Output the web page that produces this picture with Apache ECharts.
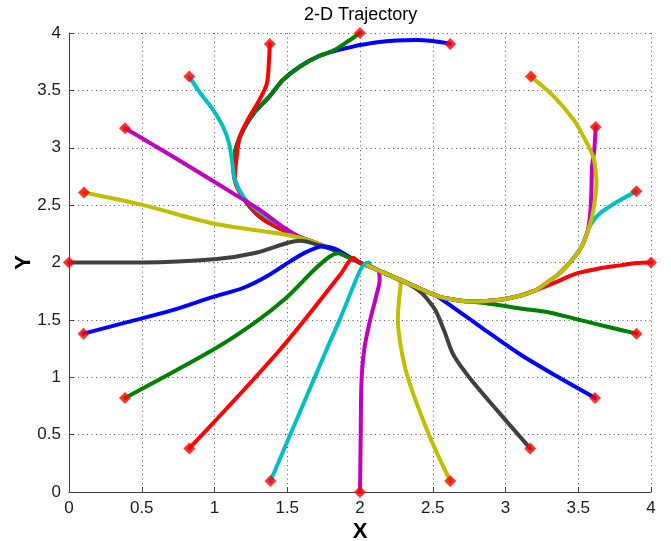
<!DOCTYPE html>
<html lang="en">
<head>
<meta charset="UTF-8">
<title>2-D Trajectory</title>
<script src="https://cdn.jsdelivr.net/npm/echarts@6.0.0/dist/echarts.min.js"></script>
<style>
    html, body { margin: 0; padding: 0; background: #fff; }
    #chart { width: 671px; height: 541px; }
</style>
</head>
<body>
<div id="chart"></div>
<script>
// shared path from the upper-left loop into the centre
const leftBranch = [[1.86,3.855],[1.72,3.80],[1.59,3.71],[1.47,3.59],[1.38,3.45],[1.27,3.30],[1.20,3.16],
    [1.15,3.01],[1.13,2.86],[1.14,2.72],[1.18,2.60],[1.24,2.49],[1.33,2.38],[1.46,2.29],[1.59,2.22],
    [1.72,2.16],[1.86,2.09],[1.95,2.03],[2.03,1.98]];
// shared path from the right loop into the centre
const rightBranch = [[3.615,2.85],[3.625,2.70],[3.615,2.55],[3.595,2.40],[3.56,2.25],[3.52,2.13],[3.45,2.01],
    [3.37,1.905],[3.29,1.83],[3.21,1.76],[3.10,1.71],[2.985,1.68],[2.87,1.665],[2.76,1.66],[2.65,1.675],
    [2.55,1.70],[2.47,1.74],[2.39,1.785],[2.30,1.835],[2.21,1.885],[2.12,1.935],[2.05,1.975]];

// each agent: its own part, from the start point to where it joins a branch
const agent0 = [[2.62,3.905],[2.50,3.93],[2.38,3.94],[2.25,3.935],[2.12,3.92],[2.0,3.895],[1.93,3.875]];
const agent1 = [[2.0,4.0],[1.92,3.93],[1.82,3.85]];
const agent2 = [[1.38,3.905],[1.375,3.77],[1.36,3.56],[1.31,3.42],[1.24,3.27],[1.175,3.10],[1.15,2.89]];
const agent3 = [[0.827,3.62],[0.90,3.48],[0.99,3.33],[1.06,3.18],[1.10,3.04],[1.12,2.89],[1.14,2.72],
    [1.20,2.57],[1.29,2.46],[1.43,2.34]];
const agent4 = [[0.385,3.17],[0.56,3.04],[0.90,2.78],[1.13,2.60],[1.31,2.46],[1.47,2.31]];
const agent5 = [[0.103,2.61],[0.51,2.50],[0.99,2.34],[1.50,2.24],[1.68,2.18]];
const agent6 = [[0,2],[0.51,2.0],[1.015,2.03],[1.27,2.08],[1.50,2.17],[1.59,2.19],[1.72,2.15]];
const agent7 = [[0.10,1.38],[0.40,1.48],[0.70,1.58],[0.99,1.70],[1.20,1.78],[1.36,1.88],[1.52,2.01],
    [1.63,2.09],[1.74,2.14],[1.83,2.12]];
const agent8 = [[0.385,0.82],[0.99,1.24],[1.27,1.47],[1.50,1.70],[1.68,1.93],[1.79,2.05],[1.85,2.08],[1.91,2.05]];
const agent9 = [[0.827,0.38],[1.45,1.24],[1.87,1.905],[1.925,2.01],[1.955,2.04],[1.985,2.01]];
const agent10 = [[1.385,0.096],[1.77,1.24],[1.86,1.50],[2.0,1.93],[2.035,1.99],[2.06,2.0],[2.07,1.975]];
const agent11 = [[2.0,0.0],[2.005,0.5],[2.01,0.95],[2.03,1.25],[2.07,1.50],[2.11,1.70],[2.135,1.85],[2.125,1.93]];
const agent12 = [[2.62,0.096],[2.48,0.48],[2.34,0.95],[2.29,1.20],[2.26,1.50],[2.27,1.70],[2.28,1.82]];
const agent13 = [[3.17,0.38],[2.95,0.70],[2.75,1.0],[2.64,1.20],[2.58,1.40],[2.52,1.58],[2.45,1.70],[2.40,1.76]];
const agent14 = [[3.615,0.82],[3.35,1.01],[3.10,1.20],[2.85,1.42],[2.65,1.60],[2.52,1.715]];
const agent15 = [[3.90,1.38],[3.70,1.44],[3.51,1.50],[3.30,1.565],[3.10,1.60],[2.95,1.63],[2.84,1.65]];
const agent16 = [[4.0,2.0],[3.90,1.995],[3.79,1.975],[3.65,1.95],[3.49,1.905],[3.33,1.82]];
const agent17 = [[3.90,2.62],[3.79,2.545],[3.65,2.43],[3.59,2.34],[3.55,2.225]];
const agent18 = [[3.62,3.18],[3.61,2.98],[3.595,2.84],[3.59,2.60],[3.58,2.40]];
const agent19 = [[3.175,3.62],[3.33,3.45],[3.47,3.24],[3.56,3.04],[3.60,2.93]];

const agents = [agent0, agent1, agent2, agent3, agent4, agent5, agent6, agent7, agent8, agent9,
    agent10, agent11, agent12, agent13, agent14, agent15, agent16, agent17, agent18, agent19];
// which branch each one joins, and at which point of it
const joinBranch = ['L','L','L','L','L','L','L','L','L','L','-','R','R','R','R','R','R','R','R','R'];
const joinAt = [0, 1, 9, 14, 14, 16, 16, 17, 17, 18, 0, 21, 19, 18, 16, 13, 9, 5, 4, 0];

const lineColors = ['#0000FF', '#007F00', '#FF0000', '#00BFBF', '#BF00BF', '#BFBF00', '#404040'];
const ticks = [0, 0.5, 1, 1.5, 2, 2.5, 3, 3.5, 4];

const font = 'Liberation Sans, Arial, Helvetica, sans-serif';
var chart = echarts.init(document.getElementById('chart'));

var series = [];
for (let i = 0; i < agents.length; i++) {
    let pts = agents[i].slice();
    if (joinBranch[i] === 'L') pts = pts.concat(leftBranch.slice(joinAt[i]));
    if (joinBranch[i] === 'R') pts = pts.concat(rightBranch.slice(joinAt[i]));
    let c = lineColors[i % lineColors.length];
    series.push({
        type: 'line',
        data: pts,
        showSymbol: false,
        smooth: 0.3,
        silent: true,
        z: 2,
        lineStyle: { color: c, width: 4, cap: 'round', join: 'round' },
        itemStyle: { color: c }
    });
}
// start markers
series.push({
    type: 'scatter',
    data: agents.map(a => a[0]),
    symbol: 'diamond',
    symbolSize: 12,
    clip: false,
    z: 3,
    itemStyle: { color: '#FF0000' }
});

function axis(name, gap) {
    return {
        type: 'value',
        min: ticks[0],
        max: ticks[ticks.length - 1],
        interval: 0.5,
        name: name,
        nameLocation: 'middle',
        nameGap: gap,
        nameMoveOverlap: false,
        nameTextStyle: { fontSize: 22, fontWeight: 'bold', color: '#000', fontFamily: font },
        axisLine: { show: true, onZero: false, lineStyle: { color: '#404040', width: 1 } },
        axisTick: { show: true, inside: true, length: 5, lineStyle: { color: '#404040' } },
        axisLabel: { fontSize: 17, color: '#1a1a1a', margin: 8, fontFamily: font },
        splitLine: { show: true, lineStyle: { type: [1, 3.5], color: '#555', width: 1 } }
    };
}

var option = {
    animation: false,
    backgroundColor: '#fff',
    title: {
        text: '2-D Trajectory',
        left: 299,
        top: 1,
        textStyle: { fontSize: 18, fontWeight: 'normal', color: '#000', fontFamily: font }
    },
    grid: { left: 69, right: 20, top: 33, bottom: 49, outerBoundsMode: 'none' },
    xAxis: axis('X', 29),
    yAxis: axis('Y', 34),
    series: series
};
chart.setOption(option);
</script>
</body>
</html>
